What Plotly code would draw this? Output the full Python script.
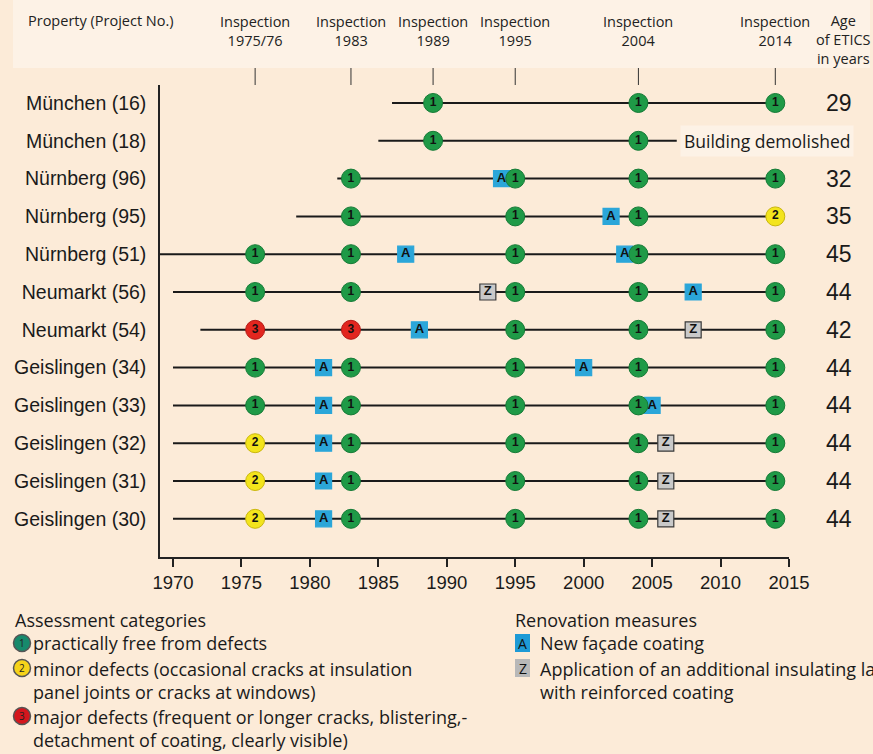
import plotly.graph_objects as go

# ---------------- data ----------------
rows = ["München (16)", "München (18)", "Nürnberg (96)", "Nürnberg (95)", "Nürnberg (51)",
        "Neumarkt (56)", "Neumarkt (54)", "Geislingen (34)", "Geislingen (33)",
        "Geislingen (32)", "Geislingen (31)", "Geislingen (30)"]
start_year = [1986, 1985, 1982, 1979, 1969, 1970, 1972, 1970, 1970, 1970, 1970, 1970]
end_year = [2014, 2006.8, 2014, 2014, 2014, 2014, 2014, 2014, 2014, 2014, 2014, 2014]
ages = ["29", "", "32", "35", "45", "44", "42", "44", "44", "44", "44", "44"]

# inspection results: (row index, year, grade)
inspection_row = [0, 0, 0,
                  1, 1,
                  2, 2, 2, 2,
                  3, 3, 3, 3,
                  4, 4, 4, 4, 4,
                  5, 5, 5, 5, 5,
                  6, 6, 6, 6, 6,
                  7, 7, 7, 7, 7,
                  8, 8, 8, 8, 8,
                  9, 9, 9, 9, 9,
                  10, 10, 10, 10, 10,
                  11, 11, 11, 11, 11]
inspection_year = [1989, 2004, 2014,
                   1989, 2004,
                   1983, 1995, 2004, 2014,
                   1983, 1995, 2004, 2014,
                   1976, 1983, 1995, 2004, 2014,
                   1976, 1983, 1995, 2004, 2014,
                   1976, 1983, 1995, 2004, 2014,
                   1976, 1983, 1995, 2004, 2014,
                   1976, 1983, 1995, 2004, 2014,
                   1976, 1983, 1995, 2004, 2014,
                   1976, 1983, 1995, 2004, 2014,
                   1976, 1983, 1995, 2004, 2014]
inspection_grade = [1, 1, 1,
                    1, 1,
                    1, 1, 1, 1,
                    1, 1, 1, 2,
                    1, 1, 1, 1, 1,
                    1, 1, 1, 1, 1,
                    3, 3, 1, 1, 1,
                    1, 1, 1, 1, 1,
                    1, 1, 1, 1, 1,
                    2, 1, 1, 1, 1,
                    2, 1, 1, 1, 1,
                    2, 1, 1, 1, 1]

# renovation measures: (row index, year, type)
renov_row = [2, 3, 4, 4, 5, 5, 6, 6, 7, 7, 8, 8, 9, 9, 10, 10, 11, 11]
renov_year = [1994, 2002, 1987, 2003, 1993, 2008, 1988, 2008, 1981, 2000, 1981, 2005,
              1981, 2006, 1981, 2006, 1981, 2006]
renov_type = ["A", "A", "A", "A", "Z", "A", "A", "Z", "A", "A", "A", "A",
              "A", "Z", "A", "Z", "A", "Z"]

inspection_years_hdr = [1976, 1983, 1989, 1995, 2004, 2014]
inspection_labels_hdr = ["Inspection<br>1975/76", "Inspection<br>1983", "Inspection<br>1989",
                         "Inspection<br>1995", "Inspection<br>2004", "Inspection<br>2014"]
x_ticks = [1970, 1975, 1980, 1985, 1990, 1995, 2000, 2005, 2010, 2015]

# ---------------- styling ----------------
W, H = 873, 754
ML, MR, MT, MB = 160, 84, 85, 197
BG = "#fcebd8"
BAND = "#fdf2e6"
SANS = "Liberation Sans, Arial, sans-serif"
NARROW = "Liberation Sans Narrow, Arial Narrow, Open Sans, sans-serif"
HUM = "Open Sans, Noto Sans, sans-serif"

grade_fill = {1: "#1f9a47", 2: "#f3e41c", 3: "#e2261f"}
grade_line = {1: "#157a36", 2: "#c9b60c", 3: "#b51a16"}
renov_fill = {"A": "#2ba6d9", "Z": "#c9c9c9"}
renov_line = {"A": "#2ba6d9", "Z": "#3a3a3a"}

pw = W - ML - MR
ph = H - MT - MB


def pxx(px):
    return (px - ML) / pw


def pxy(py):
    return (H - MB - py) / ph


fig = go.Figure()

# timelines
for i, r in enumerate(rows):
    fig.add_trace(go.Scatter(x=[start_year[i], end_year[i]], y=[i, i], mode="lines",
                             line=dict(color="#1a1a1a", width=2), hoverinfo="skip",
                             showlegend=False))

# renovation squares
for t in ["A", "Z"]:
    xs = [renov_year[k] for k in range(len(renov_year)) if renov_type[k] == t]
    ys = [renov_row[k] for k in range(len(renov_year)) if renov_type[k] == t]
    fig.add_trace(go.Scatter(x=xs, y=ys, mode="markers+text", text=[t] * len(xs),
                             textposition="middle center",
                             textfont=dict(family=SANS, size=13, color="#111", weight="bold"),
                             marker=dict(symbol="square", size=16, color=renov_fill[t],
                                         line=dict(color=renov_line[t], width=1.2)),
                             cliponaxis=False, showlegend=False))

# inspection circles
for g in [1, 2, 3]:
    xs = [inspection_year[k] for k in range(len(inspection_year)) if inspection_grade[k] == g]
    ys = [inspection_row[k] for k in range(len(inspection_year)) if inspection_grade[k] == g]
    fig.add_trace(go.Scatter(x=xs, y=ys, mode="markers+text", text=[str(g)] * len(xs),
                             textposition="middle center",
                             textfont=dict(family=SANS, size=12, color="#111", weight="bold"),
                             marker=dict(symbol="circle", size=19, color=grade_fill[g],
                                         line=dict(color=grade_line[g], width=1)),
                             cliponaxis=False, showlegend=False))

annotations = []
shapes = []

# header band
shapes.append(dict(type="rect", xref="paper", yref="paper", x0=pxx(13), x1=pxx(870),
                   y0=pxy(68), y1=pxy(0), fillcolor=BAND, line=dict(width=0), layer="below"))

HF = dict(family=NARROW, size=14.5, color="#222")
annotations.append(dict(text="Property (Project No.)", xref="paper", yref="paper",
                        x=pxx(26), y=pxy(21), xanchor="left", yanchor="middle", showarrow=False,
                        font=HF))
for yr, lab in zip(inspection_years_hdr, inspection_labels_hdr):
    annotations.append(dict(text=lab, xref="x", yref="paper", x=yr, y=pxy(31),
                            xanchor="center", yanchor="middle", showarrow=False, font=HF))
    shapes.append(dict(type="line", xref="x", yref="paper", x0=yr, x1=yr,
                       y0=pxy(68), y1=pxy(85), line=dict(color="#333", width=1)))
annotations.append(dict(text="Age<br>of ETICS<br>in years", xref="paper", yref="paper",
                        x=pxx(843), y=pxy(40), xanchor="center", yanchor="middle",
                        showarrow=False, font=HF))

# ages
for i, a in enumerate(ages):
    if a:
        annotations.append(dict(text=a, xref="paper", yref="y", x=pxx(839), y=i,
                                xanchor="center", yanchor="middle", showarrow=False,
                                font=dict(family=SANS, size=23, color="#1a1a1a")))
annotations.append(dict(text="Building demolished", xref="paper", yref="y", x=pxx(680), y=1,
                        xanchor="left", yanchor="middle", showarrow=False, bgcolor=BAND,
                        borderpad=3, font=dict(family=HUM, size=17.5, color="#1a1a1a")))

# ---------------- legend (bottom) ----------------
LF = dict(family=HUM, size=18, color="#1a1a1a")
annotations.append(dict(text="Assessment categories", xref="paper", yref="paper", x=pxx(13),
                        y=pxy(620), xanchor="left", yanchor="middle", showarrow=False, font=LF))
annotations.append(dict(text="Renovation measures", xref="paper", yref="paper", x=pxx(513),
                        y=pxy(620), xanchor="left", yanchor="middle", showarrow=False, font=LF))

leg_cat_text = ["practically free from defects",
                "minor defects (occasional cracks at insulation<br>panel joints or cracks at windows)",
                "major defects (frequent or longer cracks, blistering,-<br>detachment of coating, clearly visible)"]
leg_cat_y = [643, 680, 728]
leg_cat_icon_y = [643, 668, 716]
leg_cat_fill = ["#178a6c", "#f6d31a", "#d4161d"]
for k in range(3):
    cy = leg_cat_icon_y[k]
    shapes.append(dict(type="circle", xref="paper", yref="paper", x0=pxx(13.5), x1=pxx(30.5),
                       y0=pxy(cy + 8.5), y1=pxy(cy - 8.5), fillcolor=leg_cat_fill[k],
                       line=dict(color="#555", width=1.5)))
    annotations.append(dict(text=str(k + 1), xref="paper", yref="paper", x=pxx(22), y=pxy(cy),
                            xanchor="center", yanchor="middle", showarrow=False,
                            font=dict(family=HUM, size=10, color="#222")))
    annotations.append(dict(text=leg_cat_text[k], xref="paper", yref="paper", x=pxx(31),
                            y=pxy(leg_cat_y[k]), xanchor="left", yanchor="middle",
                            align="left", showarrow=False, font=LF))

leg_ren_text = ["New façade coating",
                "Application of an additional insulating layer<br>with reinforced coating"]
leg_ren_y = [643, 680]
leg_ren_icon_y = [643, 668]
leg_ren_fill = ["#1d9ad6", "#b8b8b8"]
leg_ren_lab = ["A", "Z"]
for k in range(2):
    cy = leg_ren_icon_y[k]
    shapes.append(dict(type="rect", xref="paper", yref="paper", x0=pxx(515), x1=pxx(530),
                       y0=pxy(cy + 9), y1=pxy(cy - 9), fillcolor=leg_ren_fill[k],
                       line=dict(width=0)))
    annotations.append(dict(text=leg_ren_lab[k], xref="paper", yref="paper", x=pxx(522.5),
                            y=pxy(cy), xanchor="center", yanchor="middle", showarrow=False,
                            font=dict(family=HUM, size=14, color="#111")))
    annotations.append(dict(text=leg_ren_text[k], xref="paper", yref="paper", x=pxx(538),
                            y=pxy(leg_ren_y[k]), xanchor="left", yanchor="middle",
                            align="left", showarrow=False, font=LF))

fig.update_layout(
    width=W, height=H, margin=dict(l=ML, r=MR, t=MT, b=MB),
    paper_bgcolor=BG, plot_bgcolor=BG, showlegend=False,
    annotations=annotations, shapes=shapes,
    xaxis=dict(range=[1969.05, 2015], tickvals=x_ticks, ticks="outside", ticklen=8,
               tickwidth=1.5, tickcolor="#222", showline=True, linecolor="#222", linewidth=1.5,
               showgrid=False, zeroline=False,
               tickfont=dict(family=SANS, size=18.5, color="#1a1a1a")),
    yaxis=dict(range=[12.01, -0.476], tickvals=list(range(len(rows))), ticktext=rows,
               ticks="", showline=True, linecolor="#222", linewidth=1.5, showgrid=False,
               zeroline=False, ticklabelstandoff=8,
               tickfont=dict(family=SANS, size=19.5, color="#1a1a1a")),
)

fig.write_html("out.html", config={"displayModeBar": False},
               post_script="document.body.style.margin='0';document.body.style.overflow='hidden';")
